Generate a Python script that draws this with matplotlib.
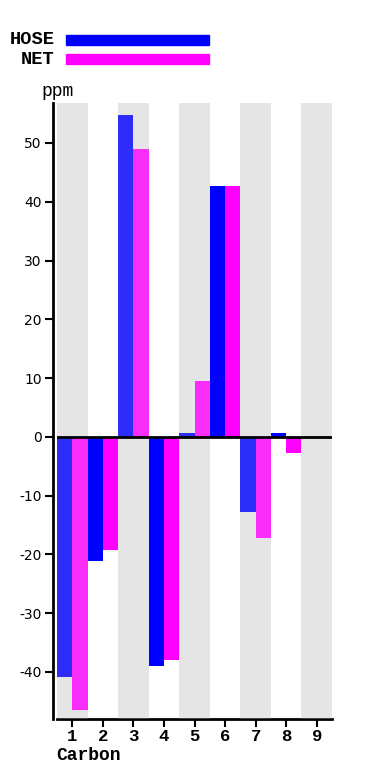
import matplotlib
matplotlib.use("Agg")
import matplotlib.pyplot as plt

carbons = [1, 2, 3, 4, 5, 6, 7, 8, 9]
hose_ppm = [-40.8, -21.2, 54.7, -39.0, 0.6, 42.7, -12.8, 0.6, 0.0]
net_ppm = [-46.5, -19.2, 49.0, -37.9, 9.5, 42.7, -17.2, -2.8, 0.0]
series_names = ["HOSE", "NET"]
y_ticks = [-40, -30, -20, -10, 0, 10, 20, 30, 40, 50]

BLUE = "#0000ff"
MAGENTA = "#ff00ff"
BAND = "#e5e5e5"
MONO = "Liberation Mono"

plt.rcParams["axes.unicode_minus"] = False

fig = plt.figure(figsize=(3.67, 7.77), dpi=100)
ax = fig.add_axes([57 / 367, 1 - 719 / 777, 275 / 367, 616 / 777])

# alternating grey bands behind odd carbons, plus a faint overlay on top
for c in carbons:
    if c % 2 == 1:
        ax.axvspan(c - 0.5, c + 0.5, color=BAND, lw=0, zorder=0)
        ax.axvspan(c - 0.5, c + 0.5, color=BAND, alpha=0.2, lw=0, zorder=3)

ax.bar([c - 0.25 for c in carbons], hose_ppm, width=0.5, color=BLUE, zorder=2)
ax.bar([c + 0.25 for c in carbons], net_ppm, width=0.5, color=MAGENTA, zorder=2)
ax.axhline(0, color="black", lw=2, zorder=4)

ax.set_xlim(0.5, 9.5)
ax.set_ylim(-48, 56.8)
ax.set_xticks(carbons)
ax.set_xticklabels([str(c) for c in carbons], fontfamily=MONO,
                   fontweight="bold", fontsize=12.5)
ax.set_yticks(y_ticks)
ax.set_yticklabels([str(v) for v in y_ticks], fontsize=10.5)

for side in ("top", "right"):
    ax.spines[side].set_visible(False)
ax.spines["left"].set_position(("outward", 3))
ax.spines["left"].set_linewidth(2)
ax.spines["bottom"].set_linewidth(2)
ax.tick_params(axis="both", length=6, width=1.5, pad=2)
ax.tick_params(axis="x", pad=1)

fig.text(58 / 367, 1 - 91 / 777, "ppm", fontfamily=MONO, fontsize=13,
         ha="center", va="center")
fig.text(56 / 367, 1 - 755 / 777, "Carbon", fontfamily=MONO, fontsize=13,
         fontweight="bold", ha="left", va="center")

# legend drawn by hand: label + long swatch
for i, (name, col) in enumerate(zip(series_names, [BLUE, MAGENTA])):
    yc = 40 + i * 19
    fig.text(55 / 367, 1 - yc / 777, name, fontfamily=MONO, fontsize=13.5,
             fontweight="bold", ha="right", va="center")
    fig.patches.append(plt.Rectangle((66 / 367, 1 - (yc + 5) / 777),
                                     143 / 367, 10 / 777, color=col,
                                     transform=fig.transFigure, figure=fig))

fig.savefig("out.png", dpi=100)
